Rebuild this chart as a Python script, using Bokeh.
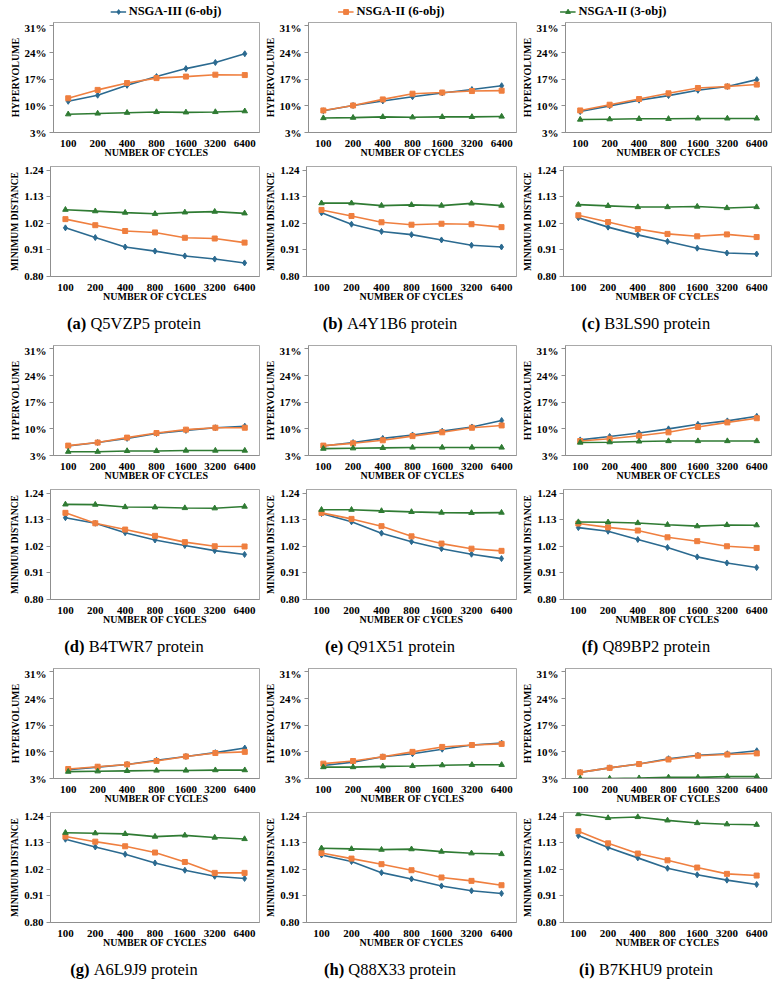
from bokeh.plotting import figure
from bokeh.models import (Range1d, FixedTicker, PrintfTickFormatter, Legend,
                          LegendItem, Label, ColumnDataSource, Spacer)
from bokeh.layouts import column, row
from bokeh.embed import file_html
from bokeh.resources import INLINE

# ---------------- data ----------------
cycles = ["100", "200", "400", "800", "1600", "3200", "6400"]
letters = ["a", "b", "c", "d", "e", "f", "g", "h", "i"]
proteins = ["Q5VZP5", "A4Y1B6", "B3LS90", "B4TWR7", "Q91X51", "Q89BP2",
            "A6L9J9", "Q88X33", "B7KHU9"]
series_names = ["NSGA-III (6-obj)", "NSGA-II (6-obj)", "NSGA-II (3-obj)"]

# Hypervolume (%) per protein a..i
hv_nsga3_6 = [
    [11.2, 12.8, 15.4, 17.7, 19.8, 21.4, 23.7],
    [8.7, 10.1, 11.3, 12.4, 13.4, 14.3, 15.3],
    [8.5, 10.0, 11.5, 12.7, 14.1, 15.1, 16.9],
    [5.5, 6.4, 7.5, 8.8, 9.6, 10.3, 10.7],
    [5.5, 6.4, 7.5, 8.4, 9.4, 10.5, 12.2],
    [7.1, 8.0, 8.9, 10.0, 11.2, 12.1, 13.3],
    [5.3, 6.0, 6.7, 7.8, 8.8, 9.8, 11.0],
    [6.4, 7.3, 8.7, 9.5, 10.7, 11.8, 12.3],
    [4.6, 5.8, 6.8, 8.2, 9.1, 9.5, 10.3],
]
hv_nsga2_6 = [
    [12.0, 14.2, 16.0, 17.3, 17.7, 18.2, 18.1],
    [8.8, 10.1, 11.7, 13.2, 13.5, 13.9, 14.0],
    [8.8, 10.3, 11.8, 13.3, 14.7, 15.1, 15.6],
    [5.6, 6.4, 7.7, 8.9, 9.8, 10.3, 10.3],
    [5.6, 6.2, 7.0, 8.1, 9.1, 10.3, 10.9],
    [6.8, 7.4, 8.2, 9.1, 10.5, 11.7, 12.8],
    [5.5, 6.1, 6.7, 7.6, 8.8, 9.7, 10.0],
    [6.9, 7.6, 8.7, 10.0, 11.3, 11.8, 12.1],
    [4.6, 5.8, 6.8, 8.0, 9.0, 9.3, 9.6],
]
hv_nsga2_3 = [
    [7.8, 8.0, 8.2, 8.4, 8.3, 8.4, 8.6],
    [6.8, 6.9, 7.1, 7.0, 7.1, 7.1, 7.2],
    [6.4, 6.5, 6.6, 6.6, 6.7, 6.7, 6.7],
    [4.0, 4.0, 4.2, 4.2, 4.3, 4.3, 4.3],
    [4.8, 4.9, 5.0, 5.1, 5.1, 5.1, 5.1],
    [6.4, 6.5, 6.7, 6.8, 6.8, 6.8, 6.8],
    [4.8, 4.9, 5.0, 5.1, 5.1, 5.2, 5.2],
    [6.0, 6.0, 6.2, 6.3, 6.5, 6.6, 6.6],
    [3.0, 3.0, 3.1, 3.3, 3.3, 3.5, 3.5],
]
# Minimum distance per protein a..i
md_nsga3_6 = [
    [1.001, 0.961, 0.922, 0.905, 0.885, 0.872, 0.856],
    [1.063, 1.016, 0.986, 0.973, 0.951, 0.929, 0.922],
    [1.043, 1.004, 0.972, 0.945, 0.917, 0.897, 0.893],
    [1.138, 1.115, 1.076, 1.046, 1.023, 1.002, 0.986],
    [1.155, 1.121, 1.074, 1.039, 1.010, 0.987, 0.969],
    [1.097, 1.082, 1.048, 1.015, 0.976, 0.951, 0.932],
    [1.144, 1.112, 1.082, 1.046, 1.016, 0.991, 0.982],
    [1.079, 1.052, 1.006, 0.980, 0.951, 0.931, 0.920],
    [1.159, 1.110, 1.067, 1.024, 0.997, 0.975, 0.957],
]
md_nsga2_6 = [
    [1.037, 1.012, 0.988, 0.982, 0.960, 0.957, 0.940],
    [1.075, 1.050, 1.024, 1.014, 1.018, 1.016, 1.004],
    [1.053, 1.025, 0.996, 0.976, 0.966, 0.974, 0.963],
    [1.158, 1.115, 1.089, 1.063, 1.037, 1.020, 1.019],
    [1.158, 1.133, 1.103, 1.061, 1.031, 1.010, 1.001],
    [1.114, 1.098, 1.085, 1.057, 1.041, 1.020, 1.013],
    [1.155, 1.134, 1.115, 1.089, 1.050, 1.005, 1.005],
    [1.087, 1.064, 1.041, 1.016, 0.986, 0.972, 0.954],
    [1.177, 1.127, 1.085, 1.057, 1.027, 1.001, 0.994],
]
md_nsga2_3 = [
    [1.076, 1.070, 1.064, 1.059, 1.065, 1.068, 1.061],
    [1.103, 1.103, 1.093, 1.096, 1.093, 1.102, 1.093],
    [1.097, 1.092, 1.087, 1.087, 1.089, 1.083, 1.087],
    [1.193, 1.192, 1.182, 1.181, 1.178, 1.177, 1.184],
    [1.171, 1.171, 1.166, 1.162, 1.159, 1.158, 1.159],
    [1.120, 1.119, 1.116, 1.109, 1.103, 1.108, 1.107],
    [1.171, 1.169, 1.166, 1.155, 1.160, 1.151, 1.145],
    [1.107, 1.104, 1.101, 1.103, 1.093, 1.086, 1.083],
    [1.248, 1.232, 1.236, 1.222, 1.211, 1.206, 1.204],
]
hv_ticks = [3, 10, 17, 24, 31]
md_ticks = [0.80, 0.91, 1.02, 1.13, 1.24]

# ---------------- style ----------------
FONT = "Liberation Serif"
COLORS = ["#2b6a90", "#ef7f3f", "#2f7b33"]
MARKERS = ["diamond", "square", "triangle"]
MSIZES = [6, 5, 5.5]
AXIS_COL = "#8f8f8f"
OUTLINE_COL = "#a9a9a9"

LEFT_PAD = 6
col_widths = [255, 257, 255]
left_borders = [44, 45, 45]
PLOT_H = 144
cap_heights = [35, 35, 24]


def bare(p):
    p.axis.visible = False
    p.xgrid.visible = False
    p.ygrid.visible = False
    p.outline_line_color = None


def make_plot(width, left, ylabel, yrange, ticks, fmt, series):
    p = figure(width=width, height=PLOT_H, x_range=cycles, y_range=yrange,
               toolbar_location=None, output_backend="svg",
               min_border_left=left, min_border_right=2,
               min_border_top=1, min_border_bottom=33)
    p.xgrid.visible = False
    p.ygrid.visible = False
    p.outline_line_color = OUTLINE_COL
    p.outline_line_width = 1
    p.background_fill_color = "white"
    for ax in (p.xaxis[0], p.yaxis[0]):
        ax.axis_line_color = AXIS_COL
        ax.major_tick_line_color = AXIS_COL
        ax.minor_tick_line_color = None
        ax.major_tick_in = 0
        ax.major_label_text_font = FONT
        ax.major_label_text_font_style = "bold"
        ax.major_label_text_font_size = "11px"
        ax.major_label_text_color = "black"
        ax.axis_label_text_font = FONT
        ax.axis_label_text_font_style = "bold"
        ax.axis_label_text_color = "black"
    xa = p.xaxis[0]
    xa.major_tick_out = 0
    xa.major_label_standoff = 7
    xa.axis_label = "NUMBER OF CYCLES"
    xa.axis_label_standoff = -3
    xa.axis_label_text_font_size = "10px"
    ya = p.yaxis[0]
    ya.major_tick_out = 4
    ya.major_label_standoff = 3
    ya.axis_label = ylabel
    ya.axis_label_standoff = 1
    ya.axis_label_text_font_size = "10px" if ylabel == "HYPERVOLUME" else "9.5px"
    ya.ticker = FixedTicker(ticks=ticks)
    ya.formatter = PrintfTickFormatter(format=fmt)
    for ys, color, marker, size in zip(series, COLORS, MARKERS, MSIZES):
        src = ColumnDataSource(dict(x=cycles, y=ys))
        p.line("x", "y", source=src, line_color=color, line_width=1.6)
        p.scatter("x", "y", source=src, marker=marker, size=size,
                  fill_color=color, line_color=color)
    return p


# approximate Times widths (em) for centering captions
_W = {" ": .25, "(": .333, ")": .333, "p": .5, "r": .333, "o": .5, "t": .278,
      "e": .444, "i": .278, "n": .5, "a": .5, "b": .556, "c": .444, "d": .556,
      "f": .333, "g": .5, "h": .556,
      "M": .889, "W": .944, "I": .333,
      "J": .389, "S": .556, "P": .556, "F": .556, "E": .611, "L": .611,
      "T": .611, "Z": .611, "B": .667, "C": .667, "R": .667}


def tw(s, size):
    w = 0
    for ch in s:
        if ch.isdigit():
            w += .5
        else:
            w += _W.get(ch, .722)
    return w * size


def make_caption(width, height, letter, name):
    p = figure(width=width, height=height, x_range=Range1d(0, width),
               y_range=Range1d(0, height), toolbar_location=None,
               output_backend="svg", min_border=0,
               min_border_left=0, min_border_right=0,
               min_border_top=0, min_border_bottom=0)
    bare(p)
    fs = 16.5
    bold = "(%s)" % letter
    rest = "%s protein" % name
    w1 = tw(bold, fs)
    w2 = tw(" " + rest, fs)
    x0 = width / 2 - (w1 + w2) / 2
    y = height - 14
    p.add_layout(Label(x=x0, y=y, text=bold, text_font=FONT,
                       text_font_style="bold", text_font_size="%.1fpx" % fs,
                       text_baseline="middle", text_align="left",
                       text_color="black"))
    p.add_layout(Label(x=x0 + w1 + 0.25 * fs, y=y, text=rest, text_font=FONT,
                       text_font_style="normal", text_font_size="%.1fpx" % fs,
                       text_baseline="middle", text_align="left",
                       text_color="black"))
    return p


# ---------------- legend strip ----------------
LEG_H = 21
legend_widths = [319, 132, 312]
legend_figs = []
for name, color, marker, size, lw in zip(series_names, COLORS, MARKERS, MSIZES, legend_widths):
    lf = figure(width=lw, height=LEG_H, x_range=Range1d(0, 1), y_range=Range1d(0, 1),
                toolbar_location=None, output_backend="svg", min_border=0,
                min_border_left=0, min_border_right=0, min_border_top=3,
                min_border_bottom=2)
    bare(lf)
    # sample glyphs kept outside the visible range; only their legend swatch shows
    rl = lf.line(x=[-5, -4], y=[-5, -5], line_color=color, line_width=1.6)
    rs = lf.scatter(x=[-5], y=[-5], marker=marker, size=size, fill_color=color,
                    line_color=color)
    lg = Legend(items=[LegendItem(label=name, renderers=[rl, rs])],
                location="center", orientation="horizontal", padding=0, margin=0,
                spacing=0, border_line_alpha=0, background_fill_alpha=0,
                glyph_width=16, glyph_height=12, label_height=12,
                label_standoff=3, label_text_font=FONT,
                label_text_font_style="bold", label_text_font_size="12.5px",
                label_text_color="black", label_text_baseline="middle")
    lf.add_layout(lg)
    legend_figs.append(lf)

# ---------------- grid ----------------
blocks = [row(Spacer(width=LEFT_PAD, height=LEG_H), *legend_figs)]
for r in range(3):
    hv_row, md_row, cap_row = [], [], []
    for c in range(3):
        k = r * 3 + c
        hv_row.append(make_plot(col_widths[c], left_borders[c], "HYPERVOLUME",
                                Range1d(3, 31.92), hv_ticks, "%d%%",
                                [hv_nsga3_6[k], hv_nsga2_6[k], hv_nsga2_3[k]]))
        md_row.append(make_plot(col_widths[c], left_borders[c], "MINIMUM DISTANCE",
                                Range1d(0.80, 1.2545), md_ticks, "%.2f",
                                [md_nsga3_6[k], md_nsga2_6[k], md_nsga2_3[k]]))
        cap_row.append(make_caption(col_widths[c], cap_heights[r], letters[k], proteins[k]))
    blocks += [row(Spacer(width=LEFT_PAD, height=PLOT_H), *hv_row),
               row(Spacer(width=LEFT_PAD, height=PLOT_H), *md_row),
               row(Spacer(width=LEFT_PAD, height=cap_heights[r]), *cap_row)]

layout = column(*blocks)
open("out.html", "w").write(file_html(layout, INLINE))
